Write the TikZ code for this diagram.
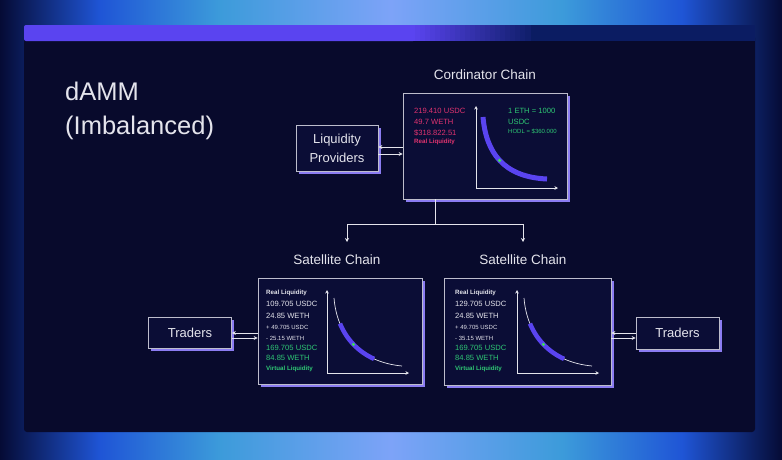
\documentclass[tikz,border=0pt]{standalone}
\usepackage{fontspec}
\setmainfont{Liberation Sans}
\usetikzlibrary{arrows.meta,positioning,shadows}

\definecolor{night}{HTML}{080A2C}
\definecolor{boxfill}{HTML}{0B0D36}
\definecolor{boxline}{HTML}{BDBDCC}
\definecolor{lav}{HTML}{8B7CF2}
\definecolor{violet}{HTML}{5A44F0}
\definecolor{ink}{HTML}{E4E4EC}
\definecolor{rose}{HTML}{E0336F}
\definecolor{mint}{HTML}{2EC774}
\definecolor{dotgreen}{HTML}{3BE05A}
\definecolor{navyA}{HTML}{050B35}
\definecolor{blueA}{HTML}{1F55D6}
\definecolor{cyanA}{HTML}{3C9BDA}
\definecolor{skyA}{HTML}{7DA3F8}
\definecolor{barend}{HTML}{0B1C62}

\begin{document}
\begin{tikzpicture}[
  x=1pt, y=-1pt,
  box/.style={draw=boxline, fill=boxfill, line width=0.7pt, text=ink, align=center,
    font=\fontsize{13}{19}\selectfont,
    general shadow={fill=lav, shadow xshift=2.5pt, shadow yshift=-2.5pt}},
  head/.style={text=ink, inner sep=0pt, font=\fontsize{13.5}{16}\selectfont},
  val/.style={anchor=west, inner sep=0pt, font=\fontsize{7.6}{9}\selectfont},
  tag/.style={anchor=west, inner sep=0pt, font=\fontsize{6.2}{7}\selectfont\bfseries},
  note/.style={anchor=west, inner sep=0pt, font=\fontsize{6}{7}\selectfont},
  axis/.style={draw=ink, line width=0.7pt, -{Stealth[length=3.5pt,width=3.5pt]}},
  link/.style={draw=ink, line width=0.7pt},
  arr/.style={link, -{Stealth[length=4pt,width=4pt]}}
]
\useasboundingbox (0,0) rectangle (782,459);

% background glow
\fill[left color=navyA, right color=blueA] (0,0) rectangle (100,459);
\fill[left color=blueA, right color=cyanA] (100,0) rectangle (220,459);
\fill[left color=cyanA, right color=skyA] (220,0) rectangle (391,459);
\fill[left color=skyA, right color=cyanA] (391,0) rectangle (562,459);
\fill[left color=cyanA, right color=blueA] (562,0) rectangle (682,459);
\fill[left color=blueA, right color=navyA] (682,0) rectangle (782,459);

% panel and top bar
\fill[night, rounded corners=3pt] (24,35) rectangle (755,432);
\fill[violet, rounded corners=2pt] (24,41) rectangle (415,25);
\fill[barend] (530,25) rectangle (755,41);
\foreach \i in {0,...,23}{
  \pgfmathtruncatemacro\mix{100-\i*4}
  \fill[violet!\mix!barend] (410+\i*5,25) rectangle (416+\i*5,41);
}

% title
\node[text=ink, anchor=base west, inner sep=0pt, font=\fontsize{25.5}{30}\selectfont] (title) at (65,100) {dAMM};
\node[text=ink, anchor=base west, inner sep=0pt, font=\fontsize{25.5}{30}\selectfont] (subtitle) at (65,134) {(Imbalanced)};

% chains
\node[box, minimum width=164pt, minimum height=106pt] (coord) at (485,146) {};
\node[box, minimum width=164pt, minimum height=106pt] (satA) at (340,331) {};
\node[box, minimum width=167pt, minimum height=107pt] (satB) at (527.5,331.5) {};
\node[head] (coordLbl) at (485,75) {Cordinator Chain};
\node[head] (satALbl) at (337,260) {Satellite Chain};
\node[head] (satBLbl) at (523,260) {Satellite Chain};

% outside parties
\node[box, minimum width=82pt, minimum height=46pt] (lp) at (337,148.5) {Liquidity\\Providers};
\node[box, minimum width=83pt, minimum height=31pt] (tradA) at (190,332.5) {Traders};
\node[box, minimum width=83pt, minimum height=32pt] (tradB) at (677.5,333) {Traders};

% coordinator contents
\node[val, rose] (cUsdc) at (414,111) {219.410 USDC};
\node[val, rose] (cWeth) at (414,122) {49.7 WETH};
\node[val, rose] (cUsd) at (414,133) {\$318.822.51};
\node[tag, rose] (cReal) at (414,142) {Real Liquidity};
\node[val, mint] (cPrice) at (508,111) {1 ETH = 1000};
\node[val, mint] (cQuote) at (508,122) {USDC};
\node[note, mint] (cHodl) at (508,131) {HODL = \$360.000};
\draw[axis] (476,188) -- (476,106);
\draw[axis] (476,188) -- (558,188);
\draw[violet, line width=5pt] (483,117) .. controls (486,152) and (503,177) .. (547,179);
\fill[dotgreen] (499.6,160.4) circle (1.8pt);

% satellite A contents
\node[tag, ink] (aReal) at (266,293) {Real Liquidity};
\node[val, ink] (aUsdc) at (266,304) {109.705 USDC};
\node[val, ink] (aWeth) at (266,316) {24.85 WETH};
\node[note, ink] (aAdd) at (266,327) {+ 49.705 USDC};
\node[note, ink] (aSub) at (266,338) {- 25.15 WETH};
\node[val, mint] (aVUsdc) at (266,348) {169.705 USDC};
\node[val, mint] (aVWeth) at (266,358) {84.85 WETH};
\node[tag, mint] (aVirt) at (266,369) {Virtual Liquidity};

% satellite B contents
\node[tag, ink] (bReal) at (455,293) {Real Liquidity};
\node[val, ink] (bUsdc) at (455,304) {129.705 USDC};
\node[val, ink] (bWeth) at (455,316) {24.85 WETH};
\node[note, ink] (bAdd) at (455,327) {+ 49.705 USDC};
\node[note, ink] (bSub) at (455,338) {- 35.15 WETH};
\node[val, mint] (bVUsdc) at (455,348) {169.705 USDC};
\node[val, mint] (bVWeth) at (455,358) {84.85 WETH};
\node[tag, mint] (bVirt) at (455,369) {Virtual Liquidity};

% satellite curves
\foreach \dx in {0,190}{
  \begin{scope}[xshift=\dx pt]
    \draw[axis] (327,373) -- (327,290);
    \draw[axis] (327,373) -- (409,373);
    \draw[ink, line width=0.7pt] (334,298) .. controls (337,335) and (360,362) .. (402,366);
    \draw[violet, line width=4.5pt] (340,323.6) .. controls (346.5,339.2) and (357.9,351.6) .. (374.1,358.9);
    \fill[dotgreen] (353.4,344.4) circle (1.7pt);
  \end{scope}
}

% connectors
\draw[arr] ([yshift=-1pt]coord.west) -- ([yshift=-1pt]coord.west -| lp.east);
\draw[arr] ([yshift=-8pt]coord.west -| lp.east) -- ([yshift=-8pt]coord.west);
\draw[arr] ([yshift=-2pt]satA.west) -- ([yshift=-2pt]satA.west -| tradA.east);
\draw[arr] ([yshift=-7pt]satA.west -| tradA.east) -- ([yshift=-7pt]satA.west);
\draw[arr] ([yshift=-1.5pt]satB.east -| tradB.west) -- ([yshift=-1.5pt]satB.east);
\draw[arr] ([yshift=-6.5pt]satB.east) -- ([yshift=-6.5pt]satB.east -| tradB.west);

\coordinate (fork) at (435,224);
\coordinate (dropA) at (347,242);
\coordinate (dropB) at (523,242);
\draw[link] (coord.south -| fork) -- (fork);
\draw[arr] (fork) -| (dropA);
\draw[arr] (fork) -| (dropB);
\end{tikzpicture}
\end{document}
